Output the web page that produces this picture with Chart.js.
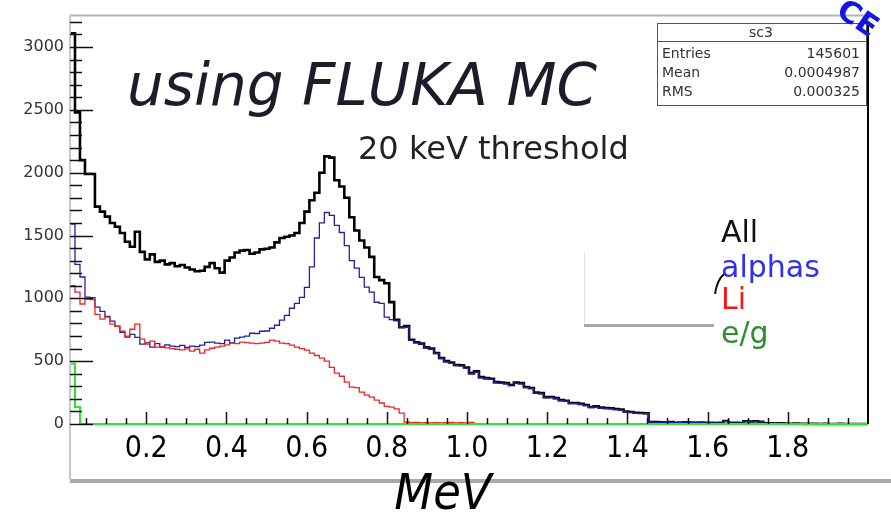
<!DOCTYPE html>
<html lang="en">
<head>
<meta charset="UTF-8">
<title>sc3</title>
<script src="https://cdn.jsdelivr.net/npm/chart.js@4.4.0/dist/chart.umd.min.js"></script>
<style>
  body { margin: 0; background: #fff; }
  canvas { display: block; }
</style>
</head>
<body>
<canvas id="myChart" width="891" height="512"></canvas>
<script>
// histogram binning, MeV
const xMin = 0.01, xMax = 2.0, nBins = 160

// counts per bin
const allCounts = [
  3110, 2480, 2100, 1990, 1990, 1730, 1690, 1650, 1600, 1570,
  1520, 1450, 1410, 1530, 1370, 1310, 1350, 1290, 1300, 1270,
  1280, 1255, 1265, 1245, 1230, 1215, 1220, 1250, 1280, 1240,
  1205, 1300, 1325, 1365, 1380, 1385, 1355, 1365, 1390, 1395,
  1405, 1445, 1480, 1490, 1500, 1520, 1600, 1690, 1780, 1840,
  2000, 2130, 2120, 1940, 1890, 1800, 1645, 1540, 1460, 1405,
  1330, 1170, 1145, 1120, 970, 830, 770, 780, 670, 650,
  640, 610, 600, 565, 525, 500, 490, 470, 468, 450,
  405, 420, 373, 365, 360, 333, 330, 325, 310, 330,
  325, 295, 286, 250, 246, 214, 215, 206, 190, 185,
  167, 167, 160, 151, 135, 140, 130, 127, 125, 119,
  115, 100, 95, 90, 87, 85, 16, 15, 14, 12,
  15, 10, 12, 14, 12, 10, 12, 10, 9, 8,
  10, 24, 10, 9, 8, 22, 20, 22, 18, 6,
  5, 4, 5, 3, 2, 3, 2, 1, 2, 1,
  0, 1, 0, 0, 1, 0, 0, 0, 0, 0
]
const alphaCounts = [
  1590, 1270, 1170, 1010, 1005, 930, 897, 857, 818, 778,
  730, 691, 714, 690, 635, 645, 611, 640, 611, 630,
  620, 615, 625, 610, 620, 615, 627, 650, 651, 643,
  640, 667, 645, 683, 691, 700, 722, 720, 738, 740,
  762, 786, 826, 865, 921, 960, 1008, 1088, 1250, 1480,
  1600, 1683, 1660, 1580, 1524, 1420, 1300, 1240, 1167, 1090,
  1050, 969, 960, 850, 830, 820, 770, 770, 665, 645,
  635, 605, 595, 560, 520, 495, 485, 465, 462, 445,
  400, 412, 368, 360, 355, 328, 325, 320, 305, 325,
  320, 290, 281, 246, 242, 210, 211, 202, 186, 181,
  163, 163, 156, 147, 131, 136, 126, 123, 121, 115,
  111, 97, 92, 87, 84, 82, 14, 13, 12, 11,
  13, 9, 11, 12, 11, 9, 11, 9, 8, 7,
  9, 22, 9, 8, 7, 20, 18, 20, 16, 5,
  4, 3, 4, 2, 2, 2, 1, 1, 1, 0,
  0, 1, 0, 0, 0, 0, 0, 0, 0, 0
]
const liCounts = [
  1100, 1050, 955, 993, 990, 873, 834, 850, 794, 778,
  738, 699, 754, 794, 675, 635, 659, 611, 615, 605,
  600, 595, 590, 598, 580, 595, 564, 590, 603, 611,
  620, 630, 643, 640, 651, 648, 643, 640, 643, 650,
  667, 660, 643, 640, 627, 611, 600, 588, 564, 545,
  524, 500, 450, 405, 380, 333, 294, 290, 254, 230,
  214, 190, 167, 140, 135, 120, 87, 16, 10, 12,
  8, 10, 9, 11, 8, 10, 12, 9, 10, 8,
  12, 0, 0, 0, 0, 0, 0, 0, 0, 0,
  0, 0, 0, 0, 0, 0, 0, 0, 0, 0,
  0, 0, 0, 0, 0, 0, 0, 0, 0, 0,
  0, 0, 0, 0, 0, 0, 0, 0, 0, 0,
  0, 0, 0, 0, 0, 0, 0, 0, 0, 0,
  0, 0, 0, 0, 0, 0, 0, 0, 0, 0,
  0, 0, 0, 0, 0, 0, 0, 0, 0, 0,
  0, 0, 0, 0, 0, 0, 0, 0, 0, 0
]
const egCounts = [
  480, 135, 0, 0, 0, 0, 0, 0, 0, 0,
  0, 0, 0, 0, 0, 0, 0, 0, 0, 0,
  0, 0, 0, 0, 0, 0, 0, 0, 0, 0,
  0, 0, 0, 0, 0, 0, 0, 0, 0, 0,
  0, 0, 0, 0, 0, 0, 0, 0, 0, 0,
  0, 0, 0, 0, 0, 0, 0, 0, 0, 0,
  0, 0, 0, 0, 0, 0, 0, 0, 0, 0,
  0, 0, 0, 0, 0, 0, 0, 0, 0, 0,
  0, 0, 0, 0, 0, 0, 0, 0, 0, 0,
  0, 0, 0, 0, 0, 0, 0, 0, 0, 0,
  0, 0, 0, 0, 0, 0, 0, 0, 0, 0,
  0, 0, 0, 0, 0, 0, 0, 0, 0, 0,
  0, 0, 0, 0, 0, 0, 0, 0, 0, 0,
  0, 0, 0, 0, 0, 0, 0, 0, 0, 0,
  0, 0, 0, 0, 0, 0, 0, 0, 0, 0,
  0, 0, 0, 0, 0, 0, 0, 0, 0, 0
]

const xTickValues = [0.2, 0.4, 0.6, 0.8, 1.0, 1.2, 1.4, 1.6, 1.8]
const yTickValues = [0, 500, 1000, 1500, 2000, 2500, 3000]
const seriesNames = ['All', 'alphas', 'Li', 'e/g']
const lineColors = ['#000000', '#22229e', '#ec2626', '#2ee62e']
const textColors = ['#111111', '#2f2ff0', '#f01c1c', '#2e8f2e']
const statNames = ['Entries', 'Mean', 'RMS']
const statValues = ['145601', '0.0004987', '0.000325']

const sans = "'DejaVu Sans', sans-serif"
const narrow = "'DejaVu Sans Condensed', 'DejaVu Sans', sans-serif"

// bins -> step points (left edges + closing right edge)
const binW = (xMax - xMin) / nBins
const toSteps = counts => {
  const pts = counts.map((c, i) => ({ x: xMin + i * binW, y: c }))
  pts.push({ x: xMax, y: counts[counts.length - 1] })
  return pts
}

// ROOT-style frame, inward ticks, stats box, legend and labels
const rootFrame = {
  id: 'rootFrame',
  beforeDraw(chart) {
    const c = chart.ctx, a = chart.chartArea
    c.save()
    c.strokeStyle = '#a8a8a8'
    c.lineWidth = 4
    c.beginPath(); c.moveTo(a.left, 481); c.lineTo(chart.width, 481); c.stroke()
    c.restore()
  },
  afterDatasetsDraw(chart) {
    const c = chart.ctx, a = chart.chartArea
    const xs = chart.scales.x, ys = chart.scales.y
    c.save()
    // frame
    c.lineWidth = 2
    c.strokeStyle = '#b4b4b4'
    c.beginPath(); c.moveTo(a.left, a.top); c.lineTo(a.right, a.top); c.stroke()
    c.strokeStyle = '#c8c8c8'
    c.beginPath(); c.moveTo(a.left, a.top); c.lineTo(a.left, 480); c.stroke()
    c.strokeStyle = '#000'
    c.beginPath(); c.moveTo(a.right, a.top + 6); c.lineTo(a.right, a.bottom); c.stroke()

    // y ticks pointing into the plot
    c.strokeStyle = '#111'
    c.lineWidth = 1.5
    for (let v = 0; v <= 3200; v += 100) {
      const y = Math.round(ys.getPixelForValue(v)) + 0.5
      const len = v % 500 === 0 ? 23 : 12
      c.beginPath(); c.moveTo(a.left, y); c.lineTo(a.left + len, y); c.stroke()
    }
    // x ticks pointing up
    for (let k = 1; k <= 39; k++) {
      const x = Math.round(xs.getPixelForValue(k * 0.05)) + 0.5
      const len = k % 4 === 0 ? 12 : 6
      c.beginPath(); c.moveTo(x, a.bottom); c.lineTo(x, a.bottom - len); c.stroke()
    }
    c.restore()
  },
  afterDraw(chart) {
    const c = chart.ctx
    c.save()
    c.textBaseline = 'alphabetic'

    // axis title
    c.fillStyle = '#000'
    c.textAlign = 'center'
    c.font = 'italic 50px ' + narrow
    c.fillText('MeV', 443, 509)

    // titles
    c.textAlign = 'left'
    c.fillStyle = '#1c1c2a'
    c.font = 'italic 58px ' + sans
    c.fillText('using FLUKA MC', 127, 105)
    c.fillStyle = '#222'
    c.font = '32px ' + sans
    c.fillText('20 keV threshold', 358, 159)

    // stats box
    c.fillStyle = '#fff'
    c.fillRect(657, 23, 209, 82)
    c.strokeStyle = '#555'
    c.lineWidth = 1
    c.strokeRect(657.5, 23.5, 209, 82)
    c.beginPath(); c.moveTo(657, 41.5); c.lineTo(866, 41.5); c.stroke()
    c.fillStyle = '#333'
    c.font = '14px ' + sans
    c.textAlign = 'center'
    c.fillText('sc3', 761, 37)
    statNames.forEach((n, i) => {
      const y = 58 + i * 19
      c.textAlign = 'left'
      c.fillText(n, 662, y)
      c.textAlign = 'right'
      c.fillText(statValues[i], 860, y)
    })

    // legend panel
    c.fillStyle = '#fff'
    c.fillRect(584, 252, 130, 74)
    c.strokeStyle = '#e2e2e2'
    c.beginPath(); c.moveTo(584.5, 252); c.lineTo(584.5, 326); c.stroke()
    c.strokeStyle = '#a8a8a8'
    c.lineWidth = 3
    c.beginPath(); c.moveTo(584, 325.5); c.lineTo(714, 325.5); c.stroke()
    c.strokeStyle = '#111'
    c.lineWidth = 2
    c.beginPath(); c.moveTo(715, 294); c.quadraticCurveTo(717, 280, 724, 274); c.stroke()
    c.textAlign = 'left'
    c.font = '30px ' + sans
    seriesNames.forEach((n, i) => {
      c.fillStyle = textColors[i]
      c.fillText(n, 721, [242, 277, 309, 343][i])
    })

    // corner logo fragment
    c.translate(852, 14)
    c.rotate(0.6)
    c.fillStyle = '#1414e6'
    c.font = 'bold 30px ' + sans
    c.fillText('CE', -14, 10)
    c.restore()
  }
}

const ctx = document.getElementById('myChart').getContext('2d')
const myChart = new Chart(ctx, {
  type: 'line',
  data: {
    datasets: [allCounts, alphaCounts, liCounts, egCounts].map((counts, i) => ({
      label: seriesNames[i],
      data: toSteps(counts),
      borderColor: lineColors[i],
      borderWidth: [2.6, 1.3, 1.3, 2][i],
      stepped: 'before',
      fill: false,
      pointRadius: 0,
      clip: { left: 0, top: 0, right: 0, bottom: 2 },
      order: 4 - i
    }))
  },
  options: {
    responsive: false,
    animation: false,
    layout: { padding: { top: 14, right: 23, left: 0, bottom: 0 } },
    plugins: { legend: { display: false }, tooltip: { enabled: false } },
    scales: {
      x: {
        type: 'linear',
        min: xMin,
        max: xMax,
        grid: { display: false, drawTicks: false },
        border: { display: false },
        afterBuildTicks: s => { s.ticks = xTickValues.map(v => ({ value: v })) },
        afterFit: s => { s.height = 88 },
        ticks: {
          color: '#000',
          font: { family: narrow, size: 30 },
          padding: 7,
          maxRotation: 0,
          autoSkip: false,
          callback: v => v.toFixed(1)
        }
      },
      y: {
        min: 0,
        max: 3250,
        grid: { display: false, drawTicks: false },
        border: { display: false },
        afterBuildTicks: s => { s.ticks = yTickValues.map(v => ({ value: v })) },
        afterFit: s => { s.width = 70 },
        ticks: {
          color: '#333',
          font: { family: sans, size: 16 },
          padding: 6,
          callback: v => String(v)
        }
      }
    }
  },
  plugins: [rootFrame]
})
</script>
</body>
</html>
